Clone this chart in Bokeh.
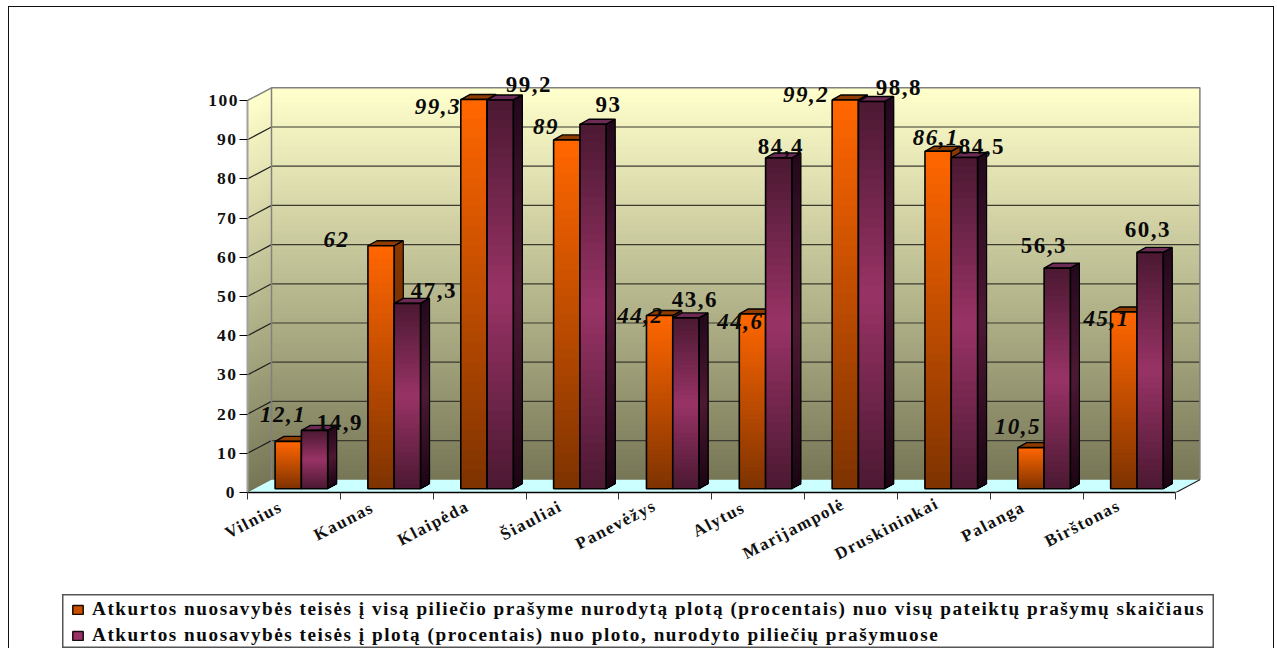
from bokeh.plotting import figure
from bokeh.models import (ColumnDataSource, FixedTicker, LabelSet, Legend, LegendItem, Range1d)
from bokeh.core.properties import value
from bokeh.embed import file_html
from bokeh.resources import INLINE

# ---- data -------------------------------------------------------------
categories = ["Vilnius", "Kaunas", "Klaipėda", "Šiauliai", "Panevėžys", "Alytus",
              "Marijampolė", "Druskininkai", "Palanga", "Birštonas"]
series_a = [12.1, 62, 99.3, 89, 44.2, 44.6, 99.2, 86.1, 10.5, 45.1]
series_b = [14.9, 47.3, 99.2, 93, 43.6, 84.4, 98.8, 84.5, 56.3, 60.3]
labels_a = ["12,1", "62", "99,3", "89", "44,2", "44,6", "99,2", "86,1", "10,5", "45,1"]
labels_b = ["14,9", "47,3", "99,2", "93", "43,6", "84,4", "98,8", "84,5", "56,3", "60,3"]
y_ticks = [0, 10, 20, 30, 40, 50, 60, 70, 80, 90, 100]
name_a = "Atkurtos nuosavybės teisės į visą piliečio prašyme nurodytą plotą (procentais) nuo visų pateiktų prašymų skaičiaus"
name_b = "Atkurtos nuosavybės teisės į plotą (procentais) nuo ploto, nurodyto piliečių prašymuose"

# ---- layout (pixels, used only to size scales) -------------------------
W, H = 1264, 642
LEFT, BOTTOM, RIGHT, TOP = 238, 485, 1264, 0
PX_CAT = 92.84
PX_VAL = 3.92
cat = lambda px: px / PX_CAT
val = lambda px: px / PX_VAL
WALL_DX, WALL_DY = cat(24), val(12.7)
BAR_DX, BAR_DY = cat(9), val(5)
BAR_X0, BAR_W = cat(27.6), cat(26.3)
BAR_BASE = val(3.7)
FONT = "Liberation Serif"

nudge_ax = [5, -33, -26, -9, -9, -2, -29, 8, -3, -7]
nudge_ay = [26.6, 6, -7, 13, 0, -8, 5, 13.5, 21, -6]
nudge_bx = [35.5, 36.7, 38.8, 27, 19, 12.3, 37.5, 27.6, -3.2, 8]
nudge_by = [7.6, 12.6, 15, 19.4, 18, 11, 13.7, 10.8, 22.3, 22.6]


def hexrgb(h):
    return tuple(int(h[i:i + 2], 16) for i in (1, 3, 5))


def lerp(stops, t):
    n = len(stops) - 1
    k = min(int(t * n), n - 1)
    f = t * n - k
    a, b = hexrgb(stops[k]), hexrgb(stops[k + 1])
    return "#%02x%02x%02x" % tuple(round(a[i] + (b[i] - a[i]) * f) for i in range(3))


p = figure(width=W, height=H, output_backend="svg", toolbar_location=None,
           x_range=Range1d(0, cat(RIGHT - LEFT)),
           y_range=Range1d(0, val(BOTTOM - TOP)),
           min_border_left=LEFT, min_border_bottom=H - BOTTOM,
           min_border_right=W - RIGHT, min_border_top=TOP,
           frame_width=RIGHT - LEFT, frame_height=BOTTOM - TOP,
           margin=(6, 0, 0, 8), background_fill_color="white",
           border_fill_color="white", outline_line_color=None,
           styles={"box-sizing": "content-box", "letter-spacing": "1.5px",
                   "border-left": "1.5px solid #111111",
                   "border-right": "1.5px solid #111111",
                   "border-top": "1.5px solid #111111"})
p.grid.visible = False

ya = p.yaxis[0]
ya.ticker = FixedTicker(ticks=y_ticks)
ya.bounds = (0, 100)
ya.axis_line_color = "#a0a0a0"
ya.axis_line_width = 2
ya.major_tick_line_color = "black"
ya.major_tick_out = 8
ya.major_tick_in = 0
ya.minor_tick_line_color = None
ya.major_label_text_font = FONT
ya.major_label_text_font_style = "bold"
ya.major_label_text_font_size = "17.5px"
ya.major_label_text_color = "#111111"
ya.major_label_standoff = 5

xa = p.xaxis[0]
tick_pos = [i + 0.26 for i in range(len(categories))]
xa.ticker = FixedTicker(ticks=tick_pos, minor_ticks=list(range(len(categories) + 1)))
xa.major_label_overrides = dict(zip(tick_pos, categories))
xa.bounds = (0, len(categories))
xa.axis_line_color = "black"
xa.axis_line_width = 1.5
xa.major_tick_line_color = None
xa.minor_tick_line_color = "#333333"
xa.minor_tick_out = 7
xa.minor_tick_in = 0
xa.major_label_orientation = 0.48
xa.major_label_text_font = FONT
xa.major_label_text_font_style = "bold"
xa.major_label_text_font_size = "17px"
xa.major_label_text_color = "#111111"
xa.major_label_standoff = 11

xs, ys, fills, line_a, widths, fill_a, lcol = [], [], [], [], [], [], []


def poly(x, y, fill=None, line=None, lw=1.0):
    xs.append(x)
    ys.append(y)
    fills.append(fill or "#000000")
    fill_a.append(1.0 if fill else 0.0)
    lcol.append(line or "#000000")
    line_a.append(1.0 if line else 0.0)
    widths.append(lw)


def flush():
    p.patches(list(xs), list(ys), fill_color=list(fills), fill_alpha=list(fill_a),
              line_color=list(lcol), line_alpha=list(line_a), line_width=list(widths))
    for lst in (xs, ys, fills, line_a, widths, fill_a, lcol):
        lst.clear()


WALL_STOPS = ["#ffffcc", "#777757"]
x_end = len(categories)
v_top = 100.0
N = 80
for k in range(N):
    t = k / (N - 1)
    v = v_top * (1 - k / N)
    c = lerp(WALL_STOPS, t)
    poly([WALL_DX, x_end + WALL_DX, x_end + WALL_DX, WALL_DX],
         [WALL_DY, WALL_DY, v + WALL_DY, v + WALL_DY], fill=c)
    poly([0, WALL_DX, WALL_DX, 0], [0, WALL_DY, v + WALL_DY, v], fill=c)
poly([0, x_end, x_end + WALL_DX, WALL_DX], [0, 0, WALL_DY, WALL_DY], fill="#ccffff")
flush()

grid_v = [t for t in y_ticks if 0 < t < 100]
p.multi_line([[WALL_DX, x_end + WALL_DX] for _ in grid_v],
             [[t + WALL_DY] * 2 for t in grid_v], line_color="#3a3a30", line_width=1.2)
p.multi_line([[0, WALL_DX] for _ in grid_v],
             [[t, t + WALL_DY] for t in grid_v], line_color="#222222", line_width=1.2)
p.multi_line([[0, WALL_DX, x_end + WALL_DX, x_end + WALL_DX],
              [WALL_DX, WALL_DX]],
             [[v_top, v_top + WALL_DY, v_top + WALL_DY, WALL_DY],
              [WALL_DY, v_top + WALL_DY]],
             line_color="#808080", line_width=1.5)
p.multi_line([[x_end, x_end + WALL_DX]], [[0, WALL_DY]], line_color="#222222", line_width=1.2)

ORANGE = ["#ff6600", "#7f3300"]
ORANGE_SIDE = ["#8a3800", "#4a1e00"]
PURPLE = ["#4d1933", "#993366", "#4d1933"]
PURPLE_SIDE = ["#24091c", "#4d1933", "#1c0614"]
TOP_A, TOP_B = "#8f3c00", "#6b2b55"


def bar(x0, h, stops, side_stops, top_color):
    y0, y1 = BAR_BASE, BAR_BASE + h
    x1 = x0 + BAR_W
    bands = 40
    for k in range(bands):
        c = lerp(side_stops, k / (bands - 1))
        yy = y1 - (y1 - y0) * k / bands
        poly([x1, x1 + BAR_DX, x1 + BAR_DX, x1],
             [y0, y0 + BAR_DY, yy + BAR_DY, yy], fill=c)
    poly([x0, x1, x1 + BAR_DX, x0 + BAR_DX], [y1, y1, y1 + BAR_DY, y1 + BAR_DY],
         fill=top_color, line="#000000", lw=1.4)
    for k in range(bands):
        c = lerp(stops, k / (bands - 1))
        yy = y1 - (y1 - y0) * k / bands
        poly([x0, x1, x1, x0], [y0, y0, yy, yy], fill=c)
    poly([x0, x1, x1, x0], [y0, y0, y1, y1], line="#000000", lw=1.6)
    poly([x1, x1 + BAR_DX, x1 + BAR_DX, x1], [y0, y0 + BAR_DY, y1 + BAR_DY, y1],
         line="#000000", lw=1.2)


for i in range(len(categories)):
    bar(i + BAR_X0, series_a[i], ORANGE, ORANGE_SIDE, TOP_A)
    bar(i + BAR_X0 + BAR_W, series_b[i], PURPLE, PURPLE_SIDE, TOP_B)
flush()

src_a = ColumnDataSource(dict(x=[i + BAR_X0 for i in range(10)],
                              y=[BAR_BASE + v for v in series_a], t=labels_a,
                              dx=nudge_ax, dy=nudge_ay))
src_b = ColumnDataSource(dict(x=[i + BAR_X0 + BAR_W for i in range(10)],
                              y=[BAR_BASE + v for v in series_b], t=labels_b,
                              dx=nudge_bx, dy=nudge_by))
p.add_layout(LabelSet(x="x", y="y", text="t", source=src_a, x_offset="dx", y_offset="dy",
                      text_font=value(FONT), text_font_style="bold italic",
                      text_font_size="23px", text_align="center",
                      text_baseline="middle", text_color="#0a0a0a"))
p.add_layout(LabelSet(x="x", y="y", text="t", source=src_b, x_offset="dx", y_offset="dy",
                      text_font=value(FONT), text_font_style="bold",
                      text_font_size="23px", text_align="center",
                      text_baseline="middle", text_color="#0a0a0a"))

# ---- legend, in its own small figure laid over the foot of the chart ------
pl = figure(width=1152, height=54, output_backend="svg", toolbar_location=None,
            x_range=Range1d(-2, -1), y_range=Range1d(-2, -1),
            x_axis_location=None, y_axis_location=None,
            min_border=0, outline_line_color="#555555",
            outline_line_width=2, background_fill_color="white", border_fill_color="white",
            styles={"position": "absolute", "left": "62px", "top": "594px",
                    "letter-spacing": "1.53px"})
pl.grid.visible = False
swatch_a = pl.quad(left=[0], right=[1], bottom=[0], top=series_a[:1],
                   fill_color="#c85000", line_color="#1a0a00", line_width=1.5)
swatch_b = pl.quad(left=[0], right=[1], bottom=[0], top=series_b[:1],
                   fill_color="#993366", line_color="#1a0a14", line_width=1.5)
legend = Legend(items=[LegendItem(label=name_a, renderers=[swatch_a]),
                       LegendItem(label=name_b, renderers=[swatch_b])],
                location=(9, 2), orientation="vertical",
                background_fill_alpha=0, border_line_color=None,
                glyph_width=13, glyph_height=11,
                label_text_font=FONT, label_text_font_style="bold",
                label_text_font_size="19.2px", label_text_color="#0a0a0a",
                label_standoff=8, spacing=4, padding=0, margin=0,
                label_height=20, click_policy="none")
pl.add_layout(legend, "center")

open("out.html", "w").write(file_html([p, pl], INLINE))
